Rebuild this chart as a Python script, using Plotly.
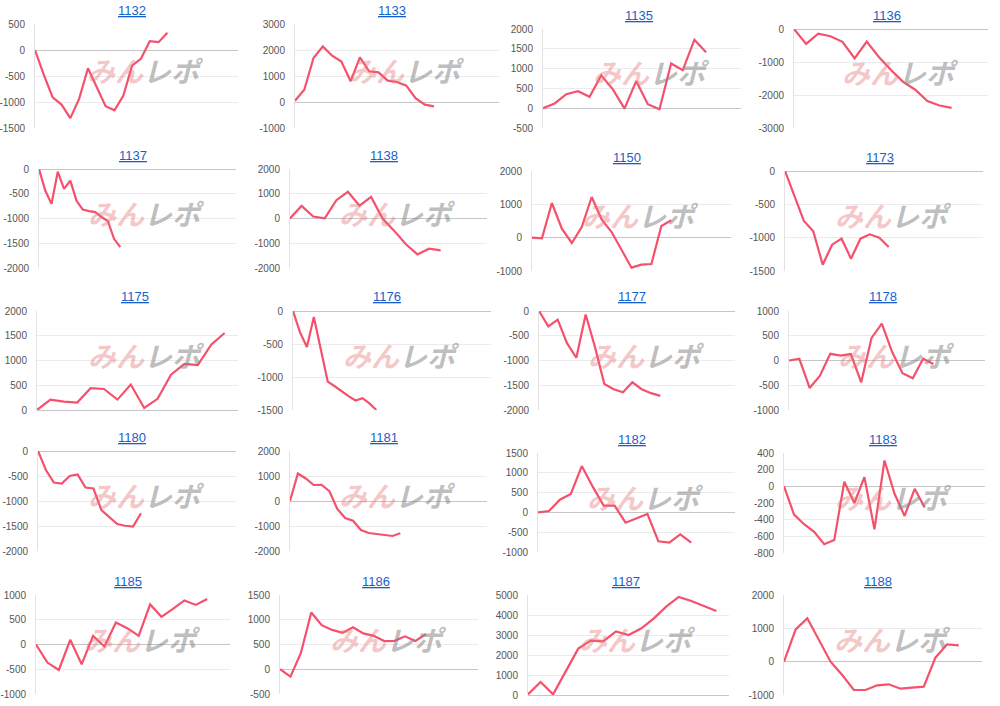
import plotly.graph_objects as go

W, H = 1000, 706
LINE = "#f5506c"

# ---- data (cumulative values per machine) ----
v1132 = [0, -480, -910, -1050, -1310, -940, -350, -730, -1080, -1160, -880, -300, -170, 170, 150, 330]
v1133 = [50, 470, 1690, 2140, 1780, 1560, 800, 1720, 1180, 1140, 820, 770, 630, 150, -100, -170]
v1135 = [0, 120, 355, 430, 290, 830, 475, -10, 685, 100, -25, 1130, 960, 1730, 1410]
v1136 = [0, -450, -140, -220, -390, -890, -380, -850, -1240, -1600, -1840, -2180, -2320, -2390]
v1137 = [0, -435, -705, -55, -400, -235, -640, -820, -850, -870, -970, -1050, -1410, -1580]
v1138 = [0, 510, 80, 10, 740, 1080, 520, 870, -10, -500, -1040, -1450, -1220, -1290]
v1150 = [0, -20, 1040, 270, -160, 320, 1220, 550, 170, -360, -900, -810, -790, 350, 520]
v1173 = [0, -380, -750, -905, -1405, -1105, -1015, -1315, -1015, -950, -1000, -1140]
v1175 = [0, 210, 170, 150, 440, 425, 210, 515, 40, 225, 715, 930, 905, 1320, 1555]
v1176 = [0, -320, -545, -90, -580, -1070, -1140, -1220, -1290, -1355, -1320, -1400, -1500]
v1177 = [0, -310, -175, -650, -945, -70, -730, -1475, -1580, -1640, -1440, -1580, -1660, -1715]
v1178 = [0, 35, -555, -305, 135, 100, 130, -440, 455, 745, 170, -255, -360, 35, -70]
v1180 = [0, -380, -630, -650, -500, -470, -730, -750, -1180, -1330, -1460, -1495, -1510, -1245]
v1181 = [0, 1100, 900, 640, 650, 390, -320, -680, -790, -1160, -1280, -1320, -1390, -1400, -1290]
v1182 = [0, 35, 320, 465, 1170, 650, 170, 170, -260, -150, -40, -730, -765, -555, -765]
v1183 = [0, -340, -455, -545, -695, -645, 55, -200, 110, -515, 310, -90, -355, -30, -255]
v1185 = [0, -365, -515, 95, -400, 175, -40, 445, 330, 175, 810, 560, 720, 890, 800, 920]
v1186 = [0, -150, 325, 1145, 890, 795, 735, 850, 725, 675, 570, 575, 665, 570, 710]
v1187 = [30, 650, 30, 1200, 2320, 2720, 2680, 3180, 3000, 3320, 3820, 4420, 4900, 4700, 4450, 4200]
v1188 = [0, 970, 1300, 670, 0, -400, -850, -850, -710, -680, -810, -780, -750, 120, 520, 490]

# ---- y tick labels per panel ----
t1132 = [500, 0, -500, -1000, -1500]
t1133 = [3000, 2000, 1000, 0, -1000]
t1135 = [2000, 1500, 1000, 500, 0, -500]
t1136 = [0, -1000, -2000, -3000]
t1137 = [0, -500, -1000, -1500, -2000]
t1138 = [2000, 1000, 0, -1000, -2000]
t1150 = [2000, 1000, 0, -1000]
t1173 = [0, -500, -1000, -1500]
t1175 = [2000, 1500, 1000, 500, 0]
t1176 = [0, -500, -1000, -1500]
t1177 = [0, -500, -1000, -1500, -2000]
t1178 = [1000, 500, 0, -500, -1000]
t1180 = [0, -500, -1000, -1500, -2000]
t1181 = [2000, 1000, 0, -1000, -2000]
t1182 = [1500, 1000, 500, 0, -500, -1000]
t1183 = [400, 200, 0, -200, -400, -600, -800]
t1185 = [1000, 500, 0, -500, -1000]
t1186 = [1500, 1000, 500, 0, -500]
t1187 = [5000, 4000, 3000, 2000, 1000, 0]
t1188 = [2000, 1000, 0, -1000]

names = ["1132", "1133", "1135", "1136", "1137", "1138", "1150", "1173", "1175", "1176",
         "1177", "1178", "1180", "1181", "1182", "1183", "1185", "1186", "1187", "1188"]
series = [v1132, v1133, v1135, v1136, v1137, v1138, v1150, v1173, v1175, v1176,
          v1177, v1178, v1180, v1181, v1182, v1183, v1185, v1186, v1187, v1188]
ticks = [t1132, t1133, t1135, t1136, t1137, t1138, t1150, t1173, t1175, t1176,
         t1177, t1178, t1180, t1181, t1182, t1183, t1185, t1186, t1187, t1188]

# ---- layout: x-axis extent and pixel boxes (left, right, top, bottom, title_x, title_y) ----
xmax = [23, 22, 17, 16, 31.5, 17, 20, 21, 15, 28.5, 21, 19, 25, 25, 18, 20, 17, 19, 16, 17]
boxes = [
    (35, 238, 24, 128, 132, 10), (295, 499, 24, 128, 392, 10),
    (543, 741, 29, 128, 639, 16), (794, 988, 29, 128, 887, 16),
    (39, 236, 169, 268, 133, 155), (290, 487, 169, 268, 384, 155),
    (532, 731, 171, 271, 627, 157), (785, 983, 171, 271, 880, 157),
    (37, 238, 311, 410, 135, 297), (293, 491, 311, 410, 387, 297),
    (539, 735, 311, 410, 632, 297), (789, 985, 311, 410, 883, 297),
    (38, 236, 451, 551, 132, 437), (290, 487, 451, 551, 384, 437),
    (538, 735, 453, 552, 632, 439), (784, 985, 453, 553, 883, 439),
    (36, 230, 595, 694, 128, 581), (280, 478, 595, 694, 376, 581),
    (528, 729, 595, 695, 626, 581), (784, 982, 595, 695, 878, 581),
]

FONT = "Liberation Sans, Arial, Helvetica, sans-serif"
fig = go.Figure()
layout = {}
annotations = []
for i, (name, vals, tk, xm, box) in enumerate(zip(names, series, ticks, xmax, boxes)):
    ax = "" if i == 0 else str(i + 1)
    L, R, T, B, tx, ty = box
    # watermark (semi transparent logo text)
    annotations.append(dict(
        x=((L + R) / 2 + 9) / W, y=1 - ((T + B) / 2 - 6) / H, xref="paper", yref="paper",
        xanchor="center", yanchor="middle", showarrow=False,
        text="<b><i><span style='color:rgba(228,120,120,0.42)'>みん</span>"
             "<span style='color:rgba(135,135,135,0.55)'>レポ</span></i></b>",
        font=dict(family="Noto Sans CJK JP", size=28)))
    annotations.append(dict(
        x=tx / W, y=1 - ty / H, xref="paper", yref="paper",
        xanchor="center", yanchor="middle", showarrow=False,
        text="<u>" + name + "</u>",
        font=dict(family=FONT, size=13, color="#1a5fc9")))
    fig.add_trace(go.Scatter(
        x=list(range(len(vals))), y=vals, mode="lines",
        line=dict(color=LINE, width=2.2), xaxis="x" + ax, yaxis="y" + ax,
        showlegend=False, hoverinfo="y", cliponaxis=False))
    layout["xaxis" + ax] = dict(
        domain=[L / W, R / W], range=[0, xm], showgrid=False, zeroline=False,
        showticklabels=False, ticks="", showline=False, anchor="y" + ax,
        fixedrange=True, automargin=False)
    layout["yaxis" + ax] = dict(
        domain=[1 - B / H, 1 - T / H], range=[min(tk), max(tk)],
        tickvals=tk, ticktext=[str(t) for t in tk],
        showgrid=True, gridcolor="#ebebeb", gridwidth=1,
        zeroline=True, zerolinecolor="#c6c6c6", zerolinewidth=1,
        showline=True, linecolor="#e2e2e2", linewidth=1,
        ticks="", ticklabelstandoff=7, anchor="x" + ax, fixedrange=True,
        automargin=False,
        tickfont=dict(family=FONT, size=10, color="#555555"))

fig.update_layout(
    width=W, height=H, margin=dict(l=0, r=0, t=0, b=0, autoexpand=False),
    paper_bgcolor="white", plot_bgcolor="white",
    annotations=annotations, **layout)

fig.write_html("out.html", config={"displayModeBar": False},
               post_script="document.body.style.margin='0';document.body.style.padding='0';")
